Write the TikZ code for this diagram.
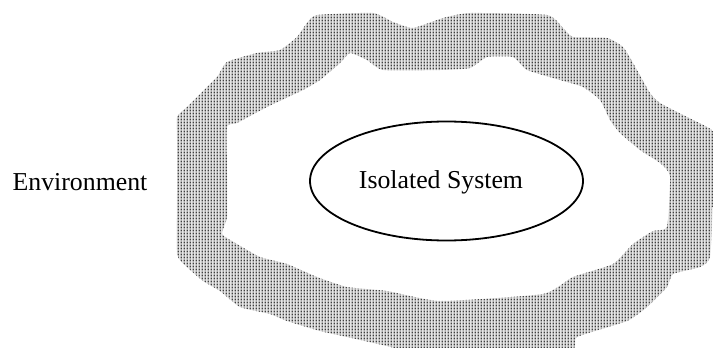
\documentclass[tikz,border=0pt]{standalone}
\usepackage{fontspec}
\setmainfont{Liberation Serif}
\usetikzlibrary{shapes.geometric,patterns.meta}
\tikzdeclarepattern{
  name=stipple,
  type=uncolored,
  bounding box={(0pt,0pt) and (3.3pt,3.4pt)},
  tile size={(3.3pt,3.4pt)},
  code={\fill (0.7pt,0.6pt) rectangle (2.4pt,2.7pt);}
}
\tikzset{
  lbl/.style={font=\fontsize{25.8}{30}\selectfont, inner sep=0pt},
  sysellipse/.style={ellipse, draw=black, line width=1.8pt,
    minimum width=273pt, minimum height=119pt, inner sep=0pt},
  ringbase/.style={fill=black!10, even odd rule},
  ringdots/.style={pattern=stipple, pattern color=black!75, even odd rule}
}
\begin{document}
\begin{tikzpicture}[x=1pt,y=-1pt]
\useasboundingbox (0,0) rectangle (713,348);
\clip (0,0) rectangle (713,348);
\def\outerring{plot[smooth cycle, tension=0.3] coordinates {
 (177,194) (177,140) (177,117) (187,107) (197,97) (217,77) (227,62)
 (257,53) (280,50) (297,37) (307,23) (317,15) (373,13) (393,22) (413,28)
 (443,18) (470,13) (547,15) (563,28) (573,37) (607,38) (623,47) (633,63)
 (650,93) (660,103) (687,117) (707,127) (714,135) (713,200) (710,257)
 (700,267) (673,274) (667,287) (647,307) (627,321) (577,337) (567,352)
 (420,353) (387,346) (347,337) (320,331) (287,321) (270,314) (240,307)
 (220,291) (203,281) (187,267) (177,254)}}
\def\innerring{plot[smooth cycle, tension=0.3] coordinates {
 (227,217) (227,174) (227,127) (237,123) (267,107) (303,90) (320,80)
 (340,63) (350,53) (367,60) (383,70) (440,70) (470,68) (487,57) (513,57)
 (527,70) (560,80) (583,87) (600,100) (610,120) (620,133) (640,150)
 (660,163) (670,176) (667,227) (653,231) (633,244) (613,264) (573,277)
 (543,294) (440,301) (387,291) (347,287) (317,277) (287,264) (260,257)
 (237,244) (222,234)}}
\fill[ringbase] \outerring \innerring;
\fill[ringdots] \outerring \innerring;
\node[sysellipse] (sys) at (446.5,181) {};
\node[lbl] (systxt) at (441,182) {Isolated System};
\node[lbl] (env) at (80,182) {Environment};
\end{tikzpicture}
\end{document}
